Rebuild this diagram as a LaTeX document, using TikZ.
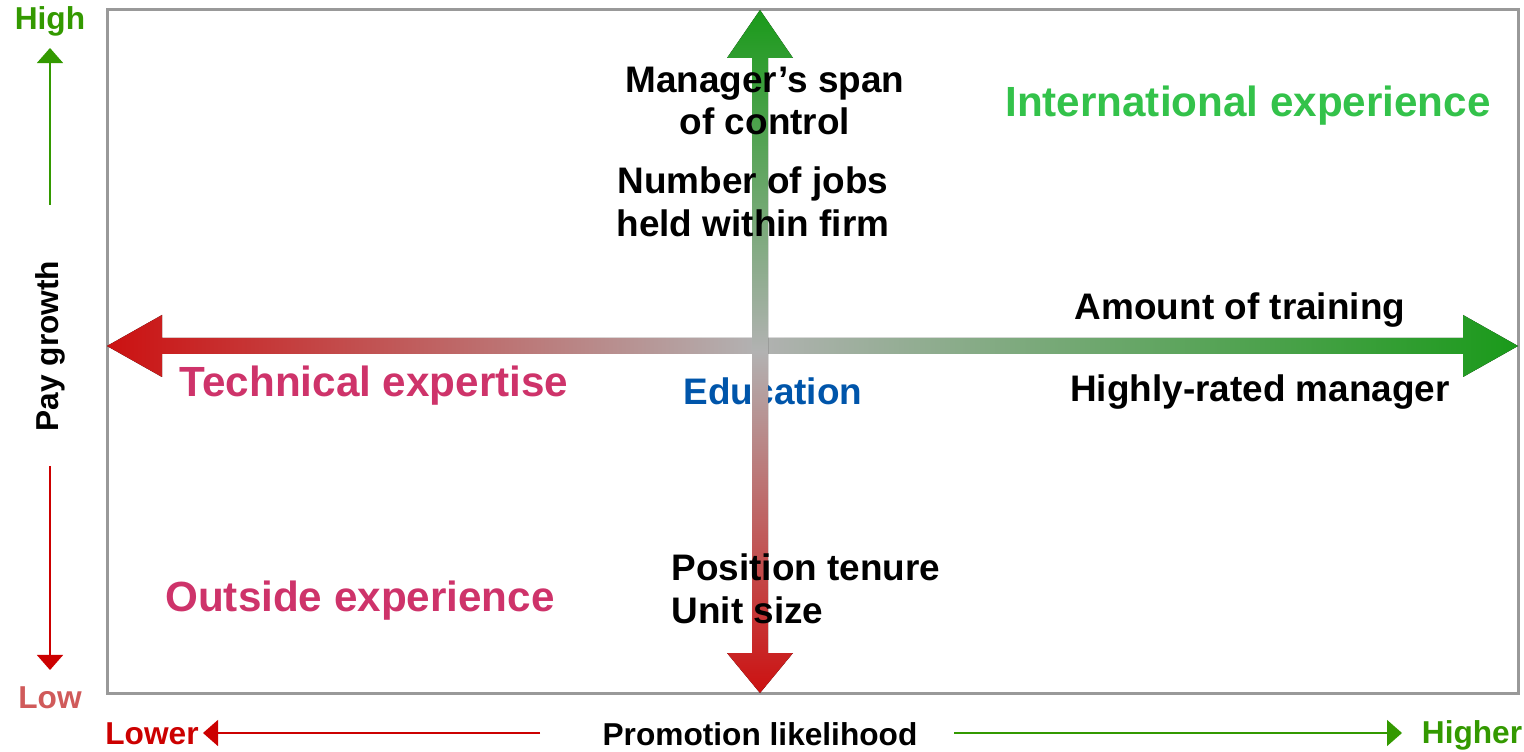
\documentclass[tikz,border=0pt]{standalone}
\usepackage{fontspec}
\setmainfont{Liberation Sans}
\usetikzlibrary{arrows.meta}

\definecolor{arrowgreen}{RGB}{26,154,26}
\definecolor{arrowred}{RGB}{204,17,17}
\definecolor{midgray}{RGB}{178,178,178}
\definecolor{framegray}{RGB}{153,153,153}
\definecolor{highgreen}{RGB}{51,153,0}
\definecolor{lowred}{RGB}{208,90,90}
\definecolor{lowerred}{RGB}{204,0,0}
\definecolor{intlgreen}{RGB}{51,194,74}
\definecolor{pinkred}{RGB}{206,51,106}
\definecolor{edublue}{RGB}{0,85,170}

% shadings for the two big arrows
\pgfdeclarehorizontalshading{crossx}{100bp}{color(0bp)=(arrowred); color(25bp)=(arrowred); color(48bp)=(midgray); color(75bp)=(arrowgreen); color(100bp)=(arrowgreen)}
\pgfdeclareverticalshading{crossy}{100bp}{color(0bp)=(arrowred); color(25bp)=(arrowred); color(50bp)=(midgray); color(75bp)=(arrowgreen); color(100bp)=(arrowgreen)}

\begin{document}
\begin{tikzpicture}[x=0.01cm,y=-0.01cm,
    big label/.style={inner sep=0pt,font=\fontsize{12}{14}\selectfont\bfseries},
    item label/.style={inner sep=0pt,align=center,font=\fontsize{10.5}{12.2}\selectfont\bfseries},
    axis label/.style={inner sep=0pt,font=\fontsize{9}{11}\selectfont\bfseries},
    green line/.style={draw=highgreen,line width=0.015cm,-{Triangle[width=0.26cm,length=0.15cm]}},
    red line/.style={draw=lowerred,line width=0.015cm,-{Triangle[width=0.26cm,length=0.15cm]}}]
    \useasboundingbox (0,0) rectangle (1524,752);

    \draw[framegray, line width=0.03cm] (107,10) rectangle (1518,693);

    % quadrant texts
    \node[big label, text=intlgreen] (intl) at (1248,106) {International experience};
    \node[big label, text=pinkred] (tech) at (374,386) {Technical expertise};
    \node[big label, text=pinkred] (outside) at (360,601) {Outside experience};
    \node[item label, text=edublue] (edu) at (773,391) {Education};

    % big arrows
    \fill[shading=crossx] (107,346) -- (162,315) -- (162,338) -- (1463,338) -- (1463,315)
        -- (1518,346) -- (1463,377) -- (1463,354) -- (162,354) -- (162,377) -- cycle;
    \fill[shading=crossy] (760,10) -- (793,58) -- (768,58) -- (768,653) -- (793,653)
        -- (760,693) -- (727,653) -- (752,653) -- (752,58) -- (727,58) -- cycle;

    \node[item label] (span) at (765,101) {Manager’s span\\of control};
    \node[item label] (jobs) at (753,202) {Number of jobs\\held within firm};
    \node[item label] (training) at (1240,310) {Amount of training};
    \node[item label] (rated) at (1260,392) {Highly-rated manager};
    \node[item label, align=left, anchor=west] (tenure) at (671,589) {Position tenure\\Unit size};

    % axis labels
    \node[axis label, text=highgreen] (high) at (50,21) {High};
    \node[axis label, text=lowred] (low) at (50,698) {Low};
    \node[axis label, rotate=90] (pay) at (50,346) {Pay growth};
    \node[axis label, text=lowerred] (lower) at (152,734) {Lower};
    \node[axis label] (promo) at (760,734) {Promotion likelihood};
    \node[axis label, text=highgreen] (higher) at (1472,735) {Higher};

    \coordinate (uptail) at (50,205);
    \coordinate (uptip) at (50,48);
    \coordinate (downtail) at (50,466);
    \coordinate (downtip) at (50,670);
    \coordinate (lefttail) at (540,733);
    \coordinate (lefttip) at (203,733);
    \coordinate (righttail) at (954,733);
    \coordinate (righttip) at (1402,733);

    \path
        (uptail) edge[green line] (uptip)
        (downtail) edge[red line] (downtip)
        (lefttail) edge[red line] (lefttip)
        (righttail) edge[green line] (righttip)
        ;
\end{tikzpicture}
\end{document}
